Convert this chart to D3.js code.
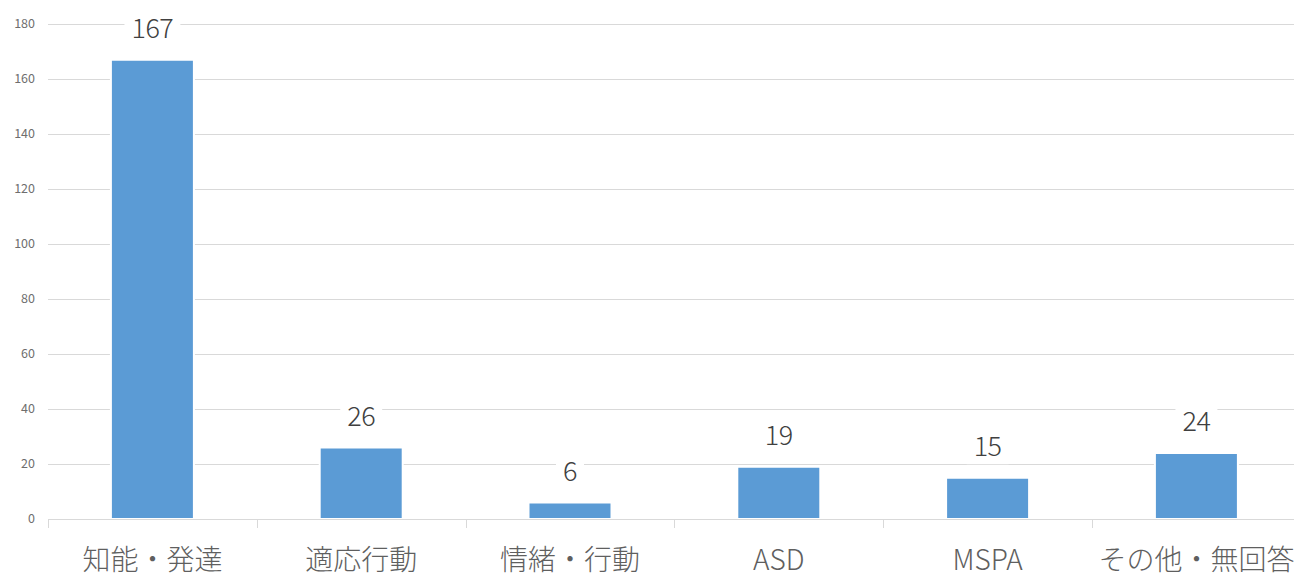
<!DOCTYPE html>
<html><head><meta charset="utf-8">
<script src="https://cdn.jsdelivr.net/npm/d3@7/dist/d3.min.js"></script>
<style>
html,body{margin:0;padding:0;background:#fff;}
svg{display:block;}
</style></head>
<body>
<svg id="chart" width="1294" height="577"></svg>
<script>
const categories = ["知能・発達", "適応行動", "情緒・行動", "ASD", "MSPA", "その他・無回答"];
const values = [167, 26, 6, 19, 15, 24];
const yTicks = [0, 20, 40, 60, 80, 100, 120, 140, 160, 180];

(function () {
const svg = d3.select("#chart");
const mLeft = 48, mRight = 1300.8, mTop = 24, mBottom = 519;
const font = "'Noto Sans CJK JP', 'Noto Sans', sans-serif";

const x = d3.scaleBand().domain(categories).range([mLeft, mRight]).paddingInner(0.6025).paddingOuter(0.30125);
const xb = d3.scaleBand().domain(categories).range([mLeft, mRight]).padding(0);
const y = d3.scaleLinear().domain([0, 180]).range([mBottom, mTop]);

// gridlines
svg.append("g").selectAll("line").data(yTicks.filter(d => d > 0)).join("line")
  .attr("x1", mLeft).attr("x2", 1294)
  .attr("y1", d => Math.round(y(d)) + 0.5).attr("y2", d => Math.round(y(d)) + 0.5)
  .attr("stroke", "#d9d9d9").attr("stroke-width", 1);

// y tick labels
svg.append("g").selectAll("text").data(yTicks).join("text")
  .attr("x", 35).attr("y", d => y(d)).attr("dy", "0.35em")
  .attr("text-anchor", "end")
  .attr("font-family", font).attr("font-size", 12.5).attr("fill", "#6e6e6e")
  .text(d => d);

// bars
svg.append("g").selectAll("rect").data(values).join("rect")
  .attr("x", (d, i) => x(categories[i]))
  .attr("width", x.bandwidth())
  .attr("y", d => y(d))
  .attr("height", d => y(0) - y(d))
  .attr("fill", "#5b9bd5")
  .attr("stroke", "#ffffff").attr("stroke-width", 2);

// x axis
svg.append("line").attr("x1", mLeft).attr("x2", 1294)
  .attr("y1", mBottom + 0.5).attr("y2", mBottom + 0.5)
  .attr("stroke", "#d9d9d9").attr("stroke-width", 1);
const tickPos = categories.map(c => xb(c));
svg.append("g").selectAll("line").data(tickPos).join("line")
  .attr("x1", d => Math.round(d) + 0.5).attr("x2", d => Math.round(d) + 0.5)
  .attr("y1", mBottom).attr("y2", mBottom + 9)
  .attr("stroke", "#d9d9d9").attr("stroke-width", 1);

// category labels
svg.append("g").selectAll("text").data(categories).join("text")
  .attr("x", d => x(d) + x.bandwidth() / 2)
  .attr("y", 560).attr("dy", "0.35em")
  .attr("text-anchor", "middle")
  .attr("font-family", font).attr("font-size", 28).attr("font-weight", 300).attr("fill", "#5f5f5f")
  .text(d => d);

// data labels with white box
const lg = svg.append("g");
values.forEach((v, i) => {
  const cx = x(categories[i]) + x.bandwidth() / 2;
  const cy = y(v) - 31;
  const t = lg.append("text")
    .attr("x", cx).attr("y", cy).attr("dy", "0.35em")
    .attr("text-anchor", "middle")
    .attr("font-family", font).attr("font-size", 27).attr("font-weight", 300)
    .attr("letter-spacing", -0.5).attr("fill", "#404040")
    .text(v);
  const bb = t.node().getBBox();
  lg.insert("rect", () => t.node())
    .attr("x", bb.x - 7).attr("width", bb.width + 14)
    .attr("y", bb.y).attr("height", bb.height)
    .attr("fill", "#ffffff");
});
})();
</script>
</body></html>
